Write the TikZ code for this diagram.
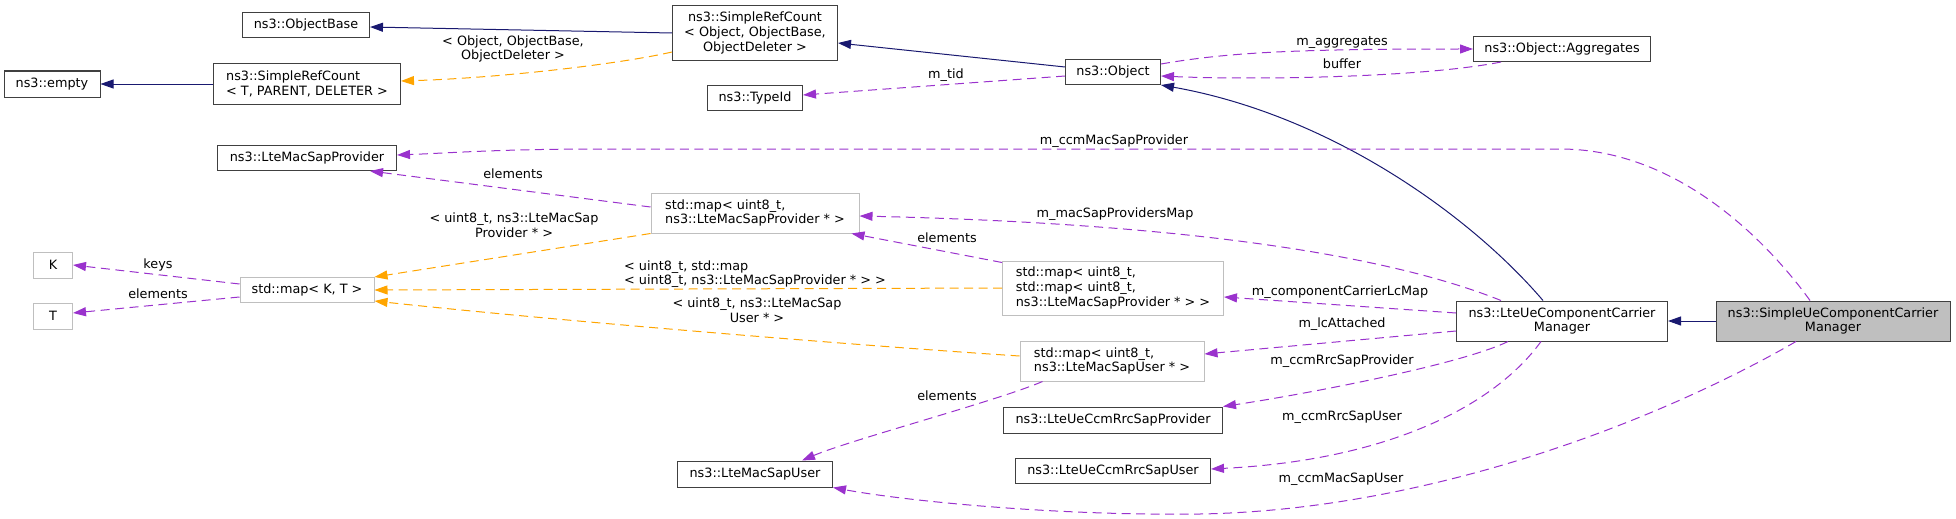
\documentclass[tikz,border=0pt]{standalone}
\usepackage{fontspec}
\setmainfont{DejaVu Sans}
\usetikzlibrary{arrows.meta,calc}
\definecolor{edgeblue}{HTML}{191970}
\definecolor{edgepurple}{HTML}{9A32CD}
\definecolor{edgeorange}{HTML}{FFA500}
\definecolor{boxgray}{HTML}{BFBFBF}
\definecolor{boxline}{HTML}{404040}
\begin{document}
\begin{tikzpicture}
  [x=1pt,y=-1pt,
   every node/.style={font=\fontsize{12.8}{14.7}\selectfont,inner sep=1pt},
   cls/.style={draw=boxline,line width=1pt,fill=white,align=center},
   ext/.style={draw=boxgray,line width=1pt,fill=white,align=left},
   cur/.style={draw=boxline,line width=1pt,fill=boxgray,align=center},
   inh/.style={draw=edgeblue,line width=1pt,-{Triangle[length=13pt,width=9pt]}},
   mem/.style={draw=edgepurple,line width=1pt,dash pattern=on 9pt off 5.5pt,-{Triangle[length=13pt,width=9pt]}},
   tpl/.style={draw=edgeorange,line width=1pt,dash pattern=on 9pt off 5.5pt,-{Triangle[length=13pt,width=9pt]}},
   lbl/.style={align=center,inner sep=0pt}]
 \useasboundingbox (0,0) rectangle (1956,519);

 \node[cls,minimum width=127,minimum height=25] (objbase) at (306,25) {ns3::ObjectBase};
 \node[cls,align=left,minimum width=187,minimum height=40] (refT) at (307,84) {ns3::SimpleRefCount\\< T, PARENT, DELETER >};
 \node[cls,minimum width=96,minimum height=26] (empty) at (52,84) {ns3::empty};
 \node[cls,minimum width=179,minimum height=25] (macprov) at (307,158) {ns3::LteMacSapProvider};
 \node[ext,minimum width=39,minimum height=26] (K) at (53,265) {K};
 \node[ext,minimum width=39,minimum height=26] (T) at (53,316) {T};
 \node[ext,minimum width=134,minimum height=25] (mapKT) at (307,290) {std::map< K, T >};
 \node[cls,minimum width=165,minimum height=55] (refObj) at (755,33) {ns3::SimpleRefCount\\< Object, ObjectBase,\\ObjectDeleter >};
 \node[cls,minimum width=95,minimum height=25] (obj) at (1113,72) {ns3::Object};
 \node[cls,minimum width=95,minimum height=25] (typeid) at (755,98) {ns3::TypeId};
 \node[ext,minimum width=208,minimum height=40] (mapprov) at (755,213) {std::map< uint8\_t,\\ ns3::LteMacSapProvider * >};
 \node[cls,minimum width=177,minimum height=25] (aggr) at (1562,49) {ns3::Object::Aggregates};
 \node[ext,minimum width=221,minimum height=54] (mapnest) at (1113,288) {std::map< uint8\_t,\\ std::map< uint8\_t,\\ ns3::LteMacSapProvider * > >};
 \node[ext,minimum width=184,minimum height=40] (mapuser) at (1112,361) {std::map< uint8\_t,\\ ns3::LteMacSapUser * >};
 \node[cls,minimum width=219,minimum height=26] (rrcprov) at (1113,420) {ns3::LteUeCcmRrcSapProvider};
 \node[cls,minimum width=195,minimum height=25] (rrcuser) at (1113,471) {ns3::LteUeCcmRrcSapUser};
 \node[cls,minimum width=155,minimum height=26] (macuser) at (755,474) {ns3::LteMacSapUser};
 \node[cls,minimum width=211,minimum height=40] (lteue) at (1562,321) {ns3::LteUeComponentCarrier\\Manager};
 \node[cur,minimum width=234,minimum height=40] (simpleue) at (1833,321) {ns3::SimpleUeComponentCarrier\\Manager};

 \draw[inh] (refObj.west) -- ($(objbase.east)+(0,2)$);
 \draw[inh] (refT.west) -- (empty.east);
 \draw[tpl] ($(refObj.west)+(0,19)$) .. controls (620,64) and (500,78) .. ($(refT.east)+(0,-3)$);
 \draw[inh] ($(obj.west)+(0,-5)$) -- ($(refObj.east)+(0,10)$);
 \draw[mem] ($(obj.west)+(0,4)$) -- ($(typeid.east)+(0,-3)$);
 \draw[mem] ($(obj.east)+(0,-8)$) .. controls (1230,52) and (1300,49) .. (aggr.west);
 \draw[mem] ($(aggr.south west)+(28,0)$) .. controls (1420,78) and (1250,80) .. ($(obj.east)+(0,4)$);
 \draw[inh] ($(lteue.north)+(-19,0)$) .. controls (1470,215) and (1330,115) .. (obj.south east);
 \draw[mem] ($(simpleue.north)+(-23,0)$) .. controls (1770,245) and (1680,149) .. (1560,149)
   -- (600,149) .. controls (500,149) and (450,153) .. ($(macprov.east)+(0,-3)$);
 \draw[mem] ($(mapprov.west)+(0,-6)$) -- ($(macprov.south)+(63,0)$);
 \draw[tpl] (mapprov.south west) -- (mapKT.north east);
 \draw[tpl] (mapnest.west) -- (mapKT.east);
 \draw[tpl] ($(mapuser.west)+(0,-5)$) .. controls (850,345) and (550,320) .. ($(mapKT.east)+(0,11)$);
 \draw[mem] ($(mapKT.west)+(0,-6)$) -- (K.east);
 \draw[mem] ($(mapKT.west)+(0,7)$) -- ($(T.east)+(0,-3)$);
 \draw[mem] ($(mapuser.south west)+(23,0)$) .. controls (1000,400) and (850,440) .. ($(macuser.north)+(47,0)$);
 \draw[mem] ($(lteue.north)+(-61,0)$) .. controls (1420,268) and (1250,225) .. ($(mapprov.east)+(0,3)$);
 \draw[mem] ($(mapnest.north west)+(0,2)$) -- ($(mapprov.south east)+(-8,0)$);
 \draw[mem] ($(lteue.west)+(0,-8)$) -- ($(mapnest.east)+(0,9)$);
 \draw[mem] ($(lteue.west)+(0,10)$) -- ($(mapuser.east)+(0,-7)$);
 \draw[mem] ($(lteue.south)+(-54,0)$) .. controls (1460,365) and (1300,395) .. (rrcprov.north east);
 \draw[mem] ($(lteue.south)+(-21,0)$) .. controls (1495,405) and (1390,460) .. ($(rrcuser.east)+(0,-2)$);
 \draw[mem] ($(simpleue.south)+(-37,0)$) .. controls (1660,420) and (1430,510) .. (1200,514)
   .. controls (1050,516) and (900,500) .. (macuser.south east);
 \draw[inh] (simpleue.west) -- (lteue.east);

 \node[lbl] (l-refobj) at (513,49) {< Object, ObjectBase,\\ObjectDeleter >};
 \node[lbl] (l-tid) at (946,75) {m\_tid};
 \node[lbl] (l-aggr) at (1342,43) {m\_aggregates};
 \node[lbl] (l-buffer) at (1342,64) {buffer};
 \node[lbl] (l-ccmprov) at (1114,141) {m\_ccmMacSapProvider};
 \node[lbl] (l-elprov) at (513,174) {elements};
 \node[lbl] (l-mapprov) at (514,225) {< uint8\_t, ns3::LteMacSap\\Provider * >};
 \node[lbl,align=left] (l-mapnest) at (755,274) {< uint8\_t, std::map\\< uint8\_t, ns3::LteMacSapProvider * > >};
 \node[lbl] (l-mapuser) at (757,310) {< uint8\_t, ns3::LteMacSap\\User * >};
 \node[lbl] (l-keys) at (158,265) {keys};
 \node[lbl] (l-elT) at (158,294) {elements};
 \node[lbl] (l-eluser) at (947,396) {elements};
 \node[lbl] (l-provmap) at (1115,214) {m\_macSapProvidersMap};
 \node[lbl] (l-elnest) at (947,238) {elements};
 \node[lbl] (l-lcmap) at (1340,292) {m\_componentCarrierLcMap};
 \node[lbl] (l-lcatt) at (1342,324) {m\_lcAttached};
 \node[lbl] (l-rrcprov) at (1342,361) {m\_ccmRrcSapProvider};
 \node[lbl] (l-rrcuser) at (1342,417) {m\_ccmRrcSapUser};
 \node[lbl] (l-macuser) at (1341,479) {m\_ccmMacSapUser};

\end{tikzpicture}
\end{document}
